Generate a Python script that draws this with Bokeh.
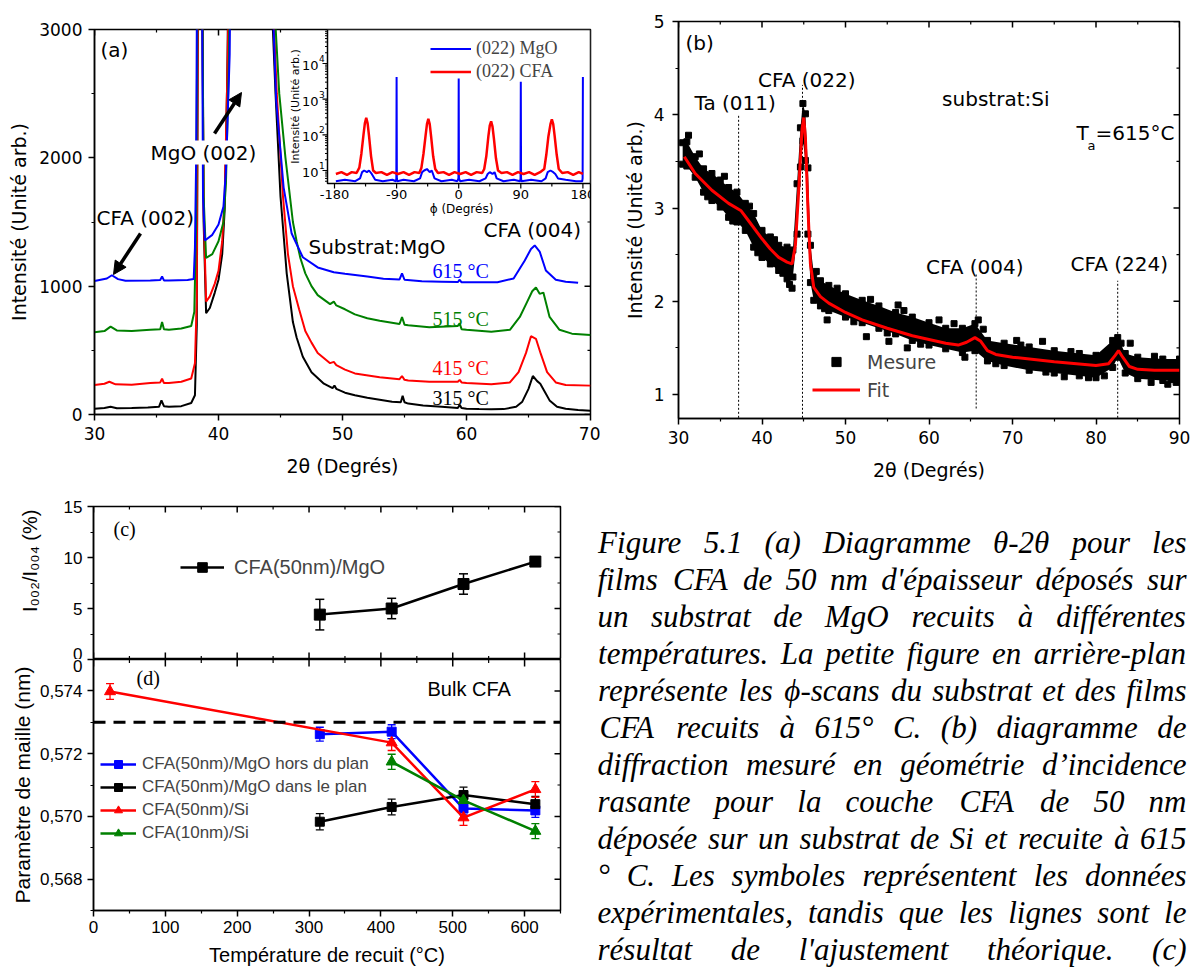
import math
from bokeh.plotting import figure
from bokeh.models import (Range1d, LogScale, FixedTicker, Legend, LegendItem, Label,
                          Arrow, NormalHead, Whisker, TeeHead, Span, ColumnDataSource,
                          CustomJSTickFormatter)
from bokeh.layouts import row, column
from bokeh.embed import file_html
from bokeh.resources import INLINE
from bokeh.core.properties import value

SANS = "DejaVu Sans"
ARIAL = "Liberation Sans"
SERIF = "Liberation Serif"

# ======================= DATA =======================
# (a) theta-2theta scans (2theta in degrees, intensity a.u.)
a315_x = [30, 30.8, 31.3, 31.8, 33, 34.3, 35.2, 35.4, 35.6, 36, 37, 37.8, 38.1, 38.25, 38.4, 38.6, 38.8, 39.0, 39.3, 39.7,
          40.0, 40.3, 40.5, 40.7, 41.0, 44.0, 44.3, 44.6, 45.0, 45.5, 46.0, 46.3, 46.8, 47.5, 48.5, 49.2, 49.35, 49.5,
          50.2, 51, 52, 53, 54, 54.7, 54.85, 55.0, 55.3, 56.5, 58, 59.3, 59.45, 59.6, 60, 61, 62, 63, 64, 64.5, 65.0,
          65.35, 65.7, 65.95, 66.3, 66.7, 67.3, 68, 69, 70]
a315_y = [45, 50, 60, 48, 50, 55, 60, 110, 65, 60, 65, 90, 150, 700, 5000, 5000, 1500, 790, 830, 950,
          1050, 1250, 1600, 2600, 5000, 5000, 3200, 2500, 1700, 1100, 720, 600, 450, 330, 240, 205, 225, 200,
          170, 150, 130, 115, 100, 95, 145, 95, 85, 70, 60, 50, 75, 50, 45, 42, 40, 42, 60, 100, 200,
          300, 260, 240, 180, 110, 60, 45, 35, 30]
a415_x = [30, 30.8, 31.2, 31.7, 33, 34.5, 35.3, 35.45, 35.6, 36, 37, 37.8, 38.1, 38.25, 38.4, 38.6, 38.8, 39.0, 39.3,
          39.7, 40.0, 40.3, 40.5, 40.75, 41.0, 44.0, 44.4, 44.7, 45.2, 45.6, 46.0, 46.5, 47.0, 47.5, 48.0, 49.0, 49.3,
          49.5, 50.2, 51, 53, 54.6, 54.8, 55.0, 55.3, 57, 59.3, 59.45, 59.6, 60, 62, 63.5, 64.2, 64.8, 65.2, 65.6,
          66.0, 66.5, 67.2, 68, 70]
a415_y = [230, 240, 255, 235, 232, 245, 250, 280, 245, 245, 255, 280, 400, 900, 5000, 5000, 1600, 880, 920,
          1020, 1120, 1350, 1700, 2800, 5000, 5000, 3200, 2500, 1700, 1250, 1000, 820, 650, 560, 480, 400, 410,
          385, 350, 320, 290, 275, 300, 270, 265, 255, 255, 270, 250, 245, 235, 250, 330, 480, 610, 590,
          470, 330, 250, 230, 225]
a515_x = [30, 30.8, 31.3, 31.8, 33, 34.5, 35.3, 35.45, 35.6, 36, 37, 37.8, 38.05, 38.2, 38.4, 38.6, 38.8, 39.0, 39.5,
          40.0, 40.4, 40.6, 40.85, 41.0, 44.0, 44.5, 44.9, 45.4, 46.0, 46.3, 46.6, 47.0, 47.5, 48.0, 49.0, 49.3, 49.5,
          50.2, 51, 52, 53, 54.6, 54.8, 55.0, 55.3, 57, 59.3, 59.45, 59.6, 60, 62, 63.5, 64.3, 64.9, 65.3, 65.6,
          65.9, 66.2, 66.7, 67.5, 68.5, 70]
a515_y = [640, 650, 685, 655, 650, 660, 665, 720, 665, 660, 670, 690, 800, 1500, 5000, 5000, 1700, 1220, 1250,
          1350, 1500, 1800, 2800, 5000, 5000, 3200, 2500, 2000, 1500, 1350, 1220, 1100, 1000, 930, 860, 880, 850,
          820, 780, 750, 730, 705, 760, 700, 695, 680, 690, 710, 665, 660, 645, 660, 760, 880, 960, 990,
          940, 950, 760, 660, 630, 620]
a615_x = [30, 31.0, 31.4, 31.9, 32.5, 34.5, 35.3, 35.45, 35.6, 36, 37.5, 38.0, 38.1, 38.2, 38.35, 38.6, 38.75, 38.9,
          39.5, 40.0, 40.4, 40.6, 40.9, 41.1, 44.0, 44.3, 44.65, 45.25, 45.9, 46.8, 48.0, 49.3, 50.2, 52, 53.3, 54.6,
          54.8, 55.0, 56.4, 58, 59.3, 59.45, 59.6, 61, 62.5, 63.8, 64.7, 65.2, 65.5, 65.9, 66.4, 67.2, 68, 69]
a615_y = [1040, 1060, 1085, 1055, 1042, 1045, 1048, 1075, 1045, 1045, 1048, 1055, 1300, 2000, 5000, 5000, 1700, 1356,
          1400, 1480, 1620, 1900, 2800, 5000, 5000, 3400, 2450, 1770, 1410, 1225, 1146, 1109, 1096, 1075, 1058, 1052,
          1100, 1050, 1039, 1035, 1032, 1050, 1030, 1030, 1030, 1060, 1200, 1290, 1317, 1270, 1122, 1050, 1035, 1026]
a_temps = ["315 °C", "415 °C", "515 °C", "615 °C"]

# (a) inset: phi scans
ib_x = [-178, -165, -150, -143, -140, -137, -133, -130, -126, -121, -110, -96, -91, -90.4, -90, -89.6, -89, -80, -65,
        -56, -53, -50, -46, -42, -39, -35, -25, -10, -2, -0.4, 0, 0.4, 2, 15, 30, 39, 42, 45, 49, 52, 55, 65, 80, 89,
        89.6, 90, 90.4, 91, 105, 120, 126, 129, 133, 137, 140, 144, 155, 170, 179, 179.6, 180]
ib_y = [5, 5.5, 5, 6, 9, 10, 9, 10, 8, 5.5, 5, 5.5, 5, 6, 4200, 6, 5, 5.5, 5,
        6, 9, 10, 11, 9, 10, 6, 5, 5.5, 5, 6, 3800, 6, 5, 5.5, 5, 6, 8, 9, 8, 9, 6, 5, 5.5, 5,
        6, 3100, 6, 5, 5.5, 5, 6, 9, 10, 9, 8, 6, 5.5, 5, 5, 6, 4200]
ir_x = [-178, -170, -162, -155, -148, -144, -141, -138, -136, -134, -132, -130, -127, -124, -120, -112, -104, -96,
        -88, -80, -72, -64, -57, -54, -51, -48, -46, -44, -42, -40, -37, -34, -30, -22, -14, -6, 2, 10, 18, 26, 34,
        37, 40, 43, 45, 47, 49, 51, 54, 57, 62, 70, 78, 86, 94, 102, 110, 118, 124, 127, 130, 133, 135, 137, 139,
        142, 145, 150, 158, 166, 174, 180]
ir_y = [8, 9, 7.5, 9, 8.5, 12, 30, 100, 210, 300, 210, 95, 25, 10, 8.5, 9, 7.5, 9,
        8, 9, 7.5, 9, 8.5, 12, 30, 95, 200, 280, 200, 90, 25, 11, 8.5, 9, 7.5, 9, 8, 9, 7.5, 9, 8.5,
        11, 25, 90, 180, 240, 170, 80, 22, 10, 8.5, 9, 7.5, 9, 8, 9, 7.5, 9, 11, 28, 90, 200, 270, 200, 95,
        28, 11, 8.5, 9, 7.5, 9, 8]

# (b) grazing incidence scan on Si
b_env_x = [30.5, 31, 32, 33, 34, 35, 36, 37, 38, 39, 40, 41, 42, 43, 43.7, 44.2, 44.6, 44.9, 45.2, 45.5, 45.8, 46.2,
           47, 48, 50, 52, 54, 56, 58, 60, 62, 64, 65.5, 67, 69, 72, 75, 78, 80, 82, 82.6, 83.5, 85, 88, 90]
b_env_hi = [3.70, 3.71, 3.55, 3.42, 3.37, 3.30, 3.22, 3.17, 3.05, 2.94, 2.76, 2.69, 2.60, 2.58, 2.55, 3.26, 3.86,
            4.12, 4.01, 3.43, 2.60, 2.30, 2.22, 2.17, 2.08, 2.01, 1.95, 1.88, 1.83, 1.77, 1.71, 1.71, 1.76, 1.58,
            1.55, 1.51, 1.47, 1.44, 1.42, 1.58, 1.61, 1.44, 1.40, 1.38, 1.38]
b_env_lo = [3.47, 3.45, 3.33, 3.17, 3.08, 3.01, 2.90, 2.85, 2.76, 2.58, 2.47, 2.40, 2.33, 2.24, 2.26, 2.72, 3.44,
            3.72, 3.51, 2.72, 2.20, 2.01, 1.95, 1.90, 1.83, 1.77, 1.71, 1.65, 1.58, 1.53, 1.49, 1.45, 1.47, 1.36,
            1.31, 1.26, 1.23, 1.20, 1.18, 1.29, 1.40, 1.23, 1.17, 1.15, 1.15]
b_out_x = [31.2, 43.3, 43.6, 47.8, 52.5, 55.2, 56.3, 57.4, 61.2, 64.3, 65.9, 70.5, 73.6, 76.2, 79.1, 84.1, 86.6,
           88.6, 89.6, 32.5, 33.5, 35.5, 36.5, 38.5, 39.5, 41.5, 42.5, 46.5, 47.5, 49, 51, 53, 55, 57, 59, 63,
           66.5, 68, 71, 74, 77, 81, 83, 87, 89]
b_out_y = [3.78, 2.18, 2.14, 1.80, 1.62, 1.57, 1.96, 1.50, 1.80, 1.40, 1.80, 1.58, 1.57, 1.19, 1.18, 1.55, 1.13,
           1.11, 1.13, 3.58, 3.12, 3.34, 2.86, 3.02, 2.52, 2.66, 2.30, 2.32, 1.92, 2.14, 1.78, 2.02, 1.66, 1.90,
           1.54, 1.76, 1.70, 1.33, 1.53, 1.24, 1.46, 1.20, 1.55, 1.41, 1.16]
b_fit_x = [30.7, 32, 34, 36, 37.5, 38.5, 40, 41, 42, 43, 43.6, 44.0, 44.4, 44.8, 45.0, 45.2, 45.5, 45.8, 46.2, 47,
           48, 50, 52, 55, 58, 60, 62, 63.5, 64.5, 65.5, 66.2, 67, 68, 70, 75, 80, 81.5, 82.3, 82.7, 83.2, 84, 85,
           87, 90]
b_fit_y = [3.55, 3.37, 3.19, 3.05, 2.97, 2.85, 2.67, 2.56, 2.47, 2.42, 2.40, 2.6, 3.2, 3.85, 3.97, 3.75, 3.0, 2.4,
           2.15, 2.05, 1.98, 1.88, 1.80, 1.71, 1.63, 1.59, 1.55, 1.53, 1.56, 1.61, 1.57, 1.47, 1.43, 1.40, 1.35,
           1.31, 1.33, 1.42, 1.47, 1.40, 1.30, 1.27, 1.26, 1.26]
b_ref_x = [37.2, 44.85, 65.65, 82.6]
b_ref_top = [4.01, 4.32, 2.30, 2.22]
b_ref_bot = [0.75, 0.75, 0.85, 0.75]

# (c) I002/I004 ratio
c_temp = [315, 415, 515, 615]
c_ratio = [4.4, 5.0, 7.4, 9.6]
c_lo = [2.9, 4.0, 6.4, 9.3]
c_hi = [5.9, 6.0, 8.4, 9.9]

# (d) lattice parameter (nm)
d_temp = [315, 415, 515, 615]
d_hors = [0.57262, 0.57270, 0.57025, 0.57019]
d_hors_err = [0.00022, 0.00022, 0.00020, 0.00022]
d_dans = [0.56983, 0.57030, 0.57068, 0.57039]
d_dans_err = [0.00026, 0.00025, 0.00025, 0.00025]
d_si50_temp = [23, 415, 515, 615]
d_si50 = [0.57398, 0.57235, 0.56996, 0.57086]
d_si50_err = [0.00025, 0.00025, 0.00025, 0.00025]
d_si10_temp = [415, 515, 615]
d_si10 = [0.57174, 0.57051, 0.56953]
d_si10_err = [0.00024, 0.00024, 0.00024]
d_bulk = 0.573

# ======================= HELPERS =======================
def base_fig(w, h, xr, yr, bl, br, bt, bb, **kw):
    p = figure(width=w, height=h, x_range=xr, y_range=yr, title=None,
               output_backend="svg", toolbar_location=None,
               min_border_left=bl, min_border_right=br, min_border_top=bt, min_border_bottom=bb, **kw)
    p.frame_align = False
    p.grid.visible = False
    p.outline_line_color = "black"
    p.outline_line_width = 1.5
    p.background_fill_color = "white"
    p.border_fill_color = "white"
    return p


def style_axis(ax, ticks, minors, font, fs, lab_fs, standoff, lab_standoff, label=None):
    ax.ticker = FixedTicker(ticks=ticks, minor_ticks=minors)
    ax.axis_line_width = 1.5
    ax.axis_line_color = "black"
    ax.major_tick_line_width = 1.5
    ax.minor_tick_line_width = 1.2
    ax.major_tick_line_color = "black"
    ax.minor_tick_line_color = "black"
    ax.major_tick_out = 6
    ax.major_tick_in = 0
    ax.minor_tick_out = 3
    ax.minor_tick_in = 0
    ax.major_label_text_font = font
    ax.major_label_text_font_size = f"{fs}px"
    ax.major_label_text_color = "black"
    ax.major_label_standoff = standoff
    ax.axis_label = label
    ax.axis_label_text_font = font
    ax.axis_label_text_font_size = f"{lab_fs}px"
    ax.axis_label_text_font_style = "normal"
    ax.axis_label_text_color = "black"
    ax.axis_label_standoff = lab_standoff


def mirror_ticks(p, side, majors, minors, edge, per_px):
    """inward tick marks on the top or right frame edge (edge = data value of that edge)"""
    for vals, ln, lw in ((majors, 6, 1.5), (minors, 3, 1.2)):
        n = len(vals)
        if side == "above":
            p.segment(x0=vals, y0=[edge] * n, x1=vals, y1=[edge - ln * per_px] * n,
                      line_color="black", line_width=lw)
        else:
            p.segment(x0=[edge] * n, y0=vals, x1=[edge - ln * per_px] * n, y1=vals,
                      line_color="black", line_width=lw)


def label(p, x, y, text, font, size, color="black", align="left", baseline="middle", **kw):
    p.add_layout(Label(x=x, y=y, text=text, text_font=font, text_font_size=f"{size}px",
                       text_color=color, text_align=align, text_baseline=baseline, **kw))


# pixel -> data converters (used only to place annotations)
ax_ = lambda px: 30 + (px - 94) / 12.4
ay_ = lambda py: (414 - py) * 3000 / 385
ixp = lambda px: -180 + (px - 334) / 0.69
iyp = lambda py: 10 ** (1 + (170 - py) / 35.67)
bx_ = lambda px: 30 + (px - 678) * 60 / 501
by_ = lambda py: 1 + (394 - py) * 4 / 373
cx_ = lambda px: (px - 93) * 650 / 467
cy_ = lambda py: (659 - py) * 15 / 153
dy_ = lambda py: 0.575 - (py - 659) * 0.008 / 251

# ======================= PANEL (a) =======================
pA = base_fig(600, 490, Range1d(30, 70), Range1d(0, 3000), 94, 10, 29, 76)
style_axis(pA.xaxis[0], [30, 40, 50, 60, 70], [35, 45, 55, 65], SANS, 17, 19, 6, 12, "2θ (Degrés)")
style_axis(pA.yaxis[0], [0, 1000, 2000, 3000], [500, 1500, 2500], SANS, 17, 19, 6, 6, "Intensité (Unité arb.)")
mirror_ticks(pA, "above", [30, 40, 50, 60, 70], [35, 45, 55, 65], 3000, 3000 / 385)
mirror_ticks(pA, "right", [0, 1000, 2000, 3000], [500, 1500, 2500], 70, 1 / 12.4)

pA.line(a315_x, a315_y, line_color="black", line_width=2)
pA.line(a415_x, a415_y, line_color="red", line_width=2)
pA.line(a515_x, a515_y, line_color="green", line_width=2)
pA.line(a615_x, a615_y, line_color="blue", line_width=2)

label(pA, ax_(100), ay_(49), "(a)", SANS, 20)
label(pA, ax_(150), ay_(152), "MgO (002)", SANS, 20, background_fill_color="white")
label(pA, ax_(96), ay_(217), "CFA (002)", SANS, 20)
label(pA, ax_(308), ay_(246), "Substrat:MgO", SANS, 20)
label(pA, ax_(483), ay_(229), "CFA (004)", SANS, 20)
for t, py, col in zip(a_temps, [397, 367, 318, 270], ["black", "red", "green", "blue"]):
    label(pA, ax_(432), ay_(py), t, SERIF, 20, color=col)

pA.add_layout(Arrow(end=NormalHead(size=13, fill_color="black", line_color="black"),
                    x_start=ax_(214), y_start=ay_(133), x_end=ax_(241), y_end=ay_(92),
                    line_width=3.5, line_color="black"))
pA.add_layout(Arrow(end=NormalHead(size=13, fill_color="black", line_color="black"),
                    x_start=ax_(140), y_start=ay_(233), x_end=ax_(113), y_end=ay_(274),
                    line_width=3.5, line_color="black"))

# ---- inset ----
pA.extra_x_ranges = {"ix": Range1d(ixp(94), ixp(590))}
pA.extra_y_ranges = {"iy": Range1d(iyp(414), iyp(29))}
pA.extra_y_scales = {"iy": LogScale()}
IN = dict(x_range_name="ix", y_range_name="iy")
pA.quad(left=[ixp(327)], right=[ixp(590)], bottom=[iyp(183)], top=[iyp(29)],
        fill_color="white", line_color="black", line_width=1.5, **IN)
r_ib = pA.line(ib_x, ib_y, line_color="blue", line_width=2, **IN)
r_ir = pA.line(ir_x, ir_y, line_color="red", line_width=2.5, **IN)

xmaj = [-180, -90, 0, 90, 180]
xmin = [-135, -45, 45, 135]
pA.segment(x0=xmaj, y0=[iyp(183)] * 5, x1=xmaj, y1=[iyp(188)] * 5, line_color="black", line_width=1.2, **IN)
pA.segment(x0=xmin, y0=[iyp(183)] * 4, x1=xmin, y1=[iyp(186)] * 4, line_color="black", line_width=1.2, **IN)
ymaj = [10, 100, 1000, 10000]
ymin = [k * 10 ** e for e in range(0, 5) for k in range(2, 10) if iyp(183) < k * 10 ** e < iyp(29)]
pA.segment(x0=[ixp(327)] * 4, y0=ymaj, x1=[ixp(322)] * 4, y1=ymaj, line_color="black", line_width=1.2, **IN)
pA.segment(x0=[ixp(327)] * len(ymin), y0=ymin, x1=[ixp(324.5)] * len(ymin), y1=ymin,
           line_color="black", line_width=1, **IN)
pA.text(x=xmaj, y=[iyp(194)] * 5, text=[str(v) for v in xmaj], text_font=value(SANS),
        text_font_size=value("13px"), text_align="center", text_baseline="middle", text_color="black", **IN)
pA.text(x=[ixp(461)], y=[iyp(208)], text=["ϕ (Degrés)"], text_font=value(SANS),
        text_font_size=value("12px"), text_align="center", text_baseline="middle", text_color="black", **IN)
dec_py = [170 - i * 35.67 for i in range(4)]
pA.text(x=[ixp(318)] * 4, y=[iyp(py + 2) for py in dec_py], text=["10"] * 4, text_font=value(SANS),
        text_font_size=value("13px"), text_align="right", text_baseline="middle", text_color="black", **IN)
pA.text(x=[ixp(318.5)] * 4, y=[iyp(py - 5) for py in dec_py], text=["1", "2", "3", "4"], text_font=value(SANS),
        text_font_size=value("9px"), text_align="left", text_baseline="middle", text_color="black", **IN)
pA.text(x=[ixp(295)], y=[iyp(106)], text=["Intensité (Unité arb.)"], angle=math.pi / 2, text_font=value(SANS),
        text_font_size=value("11px"), text_align="center", text_baseline="middle", text_color="black", **IN)

leg_in = Legend(items=[LegendItem(label="(022) MgO", renderers=[r_ib]),
                       LegendItem(label="(022) CFA", renderers=[r_ir])],
                location=(336, 332), orientation="vertical", padding=0, margin=0, spacing=2,
                glyph_width=41, glyph_height=21, label_height=21, label_standoff=5,
                label_text_font=SERIF, label_text_font_size="18px", border_line_color=None,
                background_fill_alpha=0)
pA.add_layout(leg_in)

# ======================= PANEL (b) =======================
pB = base_fig(595, 490, Range1d(30, 90), Range1d(by_(418), 5), 78, 16, 21, 72)
style_axis(pB.xaxis[0], [30, 40, 50, 60, 70, 80, 90], [35, 45, 55, 65, 75, 85], SANS, 17, 19, 6, 12, "2θ (Degrés)")
style_axis(pB.yaxis[0], [1, 2, 3, 4, 5], [1.5, 2.5, 3.5, 4.5], SANS, 17, 19, 8, 5, "Intensité (Unité arb.)")
mirror_ticks(pB, "above", [30, 40, 50, 60, 70, 80, 90], [35, 45, 55, 65, 75, 85], 5, 4 / 373)
mirror_ticks(pB, "right", [1, 2, 3, 4, 5], [1.5, 2.5, 3.5, 4.5], 90, 60 / 501)

pB.segment(x0=b_ref_x, y0=b_ref_bot, x1=b_ref_x, y1=b_ref_top, line_color="black", line_width=1, line_dash="2 2")
pB.varea(x=b_env_x, y1=b_env_lo, y2=b_env_hi, fill_color="black")
r_mes = pB.scatter(x=b_env_x + b_env_x + b_out_x, y=b_env_lo + b_env_hi + b_out_y, marker="square", size=6,
                   fill_color="black", line_color="black")
r_fit = pB.line(b_fit_x, b_fit_y, line_color="red", line_width=3)

label(pB, bx_(685), by_(42), "(b)", SANS, 20)
label(pB, bx_(757.5), by_(79), "CFA (022)", SANS, 20)
label(pB, bx_(694), by_(102), "Ta (011)", SANS, 20)
label(pB, bx_(941.6), by_(98), "substrat:Si", SANS, 20)
label(pB, bx_(925.6), by_(266), "CFA (004)", SANS, 20)
label(pB, bx_(1070), by_(263), "CFA (224)", SANS, 20)
label(pB, bx_(1076), by_(132), "T", SANS, 20)
label(pB, bx_(1087), by_(145), "a", SANS, 13)
label(pB, bx_(1095), by_(132), "=615°C", SANS, 20)

leg_b = Legend(items=[LegendItem(label="Mesure", renderers=[r_mes]), LegendItem(label="Fit", renderers=[r_fit])],
               location=(134, 17), orientation="vertical", padding=0, margin=0, spacing=5,
               glyph_width=48, glyph_height=23, label_height=23, label_standoff=7,
               label_text_font=SANS, label_text_font_size="19px", border_line_color=None,
               background_fill_alpha=0)
pB.add_layout(leg_b)

# ======================= PANEL (c) =======================
xt = [0, 100, 200, 300, 400, 500, 600]
xm = [50, 150, 250, 350, 450, 550, 650]
pC = base_fig(590, 169, Range1d(0, 650), Range1d(0, 15), 93, 30, 16, 0, x_axis_location=None)
style_axis(pC.yaxis[0], [0, 5, 10, 15], [2.5, 7.5, 12.5], ARIAL, 17, 20, 5, 20,
           "\u00a0" * 8 + "I₀₀₂/I₀₀₄ (%)")
mirror_ticks(pC, "above", xt, xm, 15, 15 / 153)
mirror_ticks(pC, "right", [0, 5, 10, 15], [2.5, 7.5, 12.5], 650, 650 / 467)
pC.segment(x0=xt, y0=[0] * 7, x1=xt, y1=[cy_(652)] * 7, line_color="black", line_width=1.5)
pC.segment(x0=xm, y0=[0] * 7, x1=xm, y1=[cy_(655.5)] * 7, line_color="black", line_width=1.2)

srcC = ColumnDataSource(dict(base=c_temp, lower=c_lo, upper=c_hi))
pC.add_layout(Whisker(source=srcC, base="base", lower="lower", upper="upper", dimension="height",
                      line_color="black", line_width=1.5,
                      upper_head=TeeHead(size=9, line_color="black", line_width=1.5),
                      lower_head=TeeHead(size=9, line_color="black", line_width=1.5)))
rc_l = pC.line(c_temp, c_ratio, line_color="black", line_width=2.5)
rc_s = pC.scatter(c_temp, c_ratio, marker="square", size=11, fill_color="black", line_color="black")
label(pC, cx_(113), cy_(528), "(c)", SERIF, 20)
leg_c = Legend(items=[LegendItem(label="CFA(50nm)/MgO", renderers=[rc_l, rc_s])],
               location=(87, 80), orientation="vertical", padding=0, margin=0, spacing=0,
               glyph_width=44, glyph_height=24, label_height=24, label_standoff=10,
               label_text_font=ARIAL, label_text_font_size="20px", border_line_color=None,
               background_fill_alpha=0)
pC.add_layout(leg_c)

# ======================= PANEL (d) =======================
yt = [0.568, 0.570, 0.572, 0.574, 0.575]
ym = [0.567, 0.569, 0.571, 0.573]
pD = base_fig(590, 315, Range1d(0, 650), Range1d(0.567, 0.575), 93, 30, 0, 64)
style_axis(pD.xaxis[0], xt, xm, ARIAL, 17, 20, 4, 8, "Température de recuit (°C)")
style_axis(pD.yaxis[0], yt, ym, ARIAL, 17, 21, 5, 3, "Paramètre de maille (nm)")
pD.yaxis[0].formatter = CustomJSTickFormatter(
    code="if (Math.abs(tick - 0.575) < 1e-7) { return '0'; } return tick.toFixed(3).replace('.', ',');")
mirror_ticks(pD, "right", yt[:4], ym, 650, 650 / 467)
pD.segment(x0=xt, y0=[0.575] * 7, x1=xt, y1=[dy_(666)] * 7, line_color="black", line_width=1.5)
pD.segment(x0=xm, y0=[0.575] * 7, x1=xm, y1=[dy_(662.5)] * 7, line_color="black", line_width=1.2)

pD.add_layout(Span(location=d_bulk, dimension="width", line_color="black", line_width=3, line_dash="12 8"))

series = [
    (d_temp, d_hors, d_hors_err, "blue", "square", 9, "CFA(50nm)/MgO hors du plan"),
    (d_temp, d_dans, d_dans_err, "black", "square", 9, "CFA(50nm)/MgO dans le plan"),
    (d_si50_temp, d_si50, d_si50_err, "red", "triangle", 11, "CFA(50nm)/Si"),
    (d_si10_temp, d_si10, d_si10_err, "green", "triangle", 11, "CFA(10nm)/Si"),
]
items = []
for xs, ys, es, col, mk, sz, lab in series:
    src = ColumnDataSource(dict(base=xs, lower=[y - e for y, e in zip(ys, es)],
                                upper=[y + e for y, e in zip(ys, es)]))
    pD.add_layout(Whisker(source=src, base="base", lower="lower", upper="upper", dimension="height",
                          line_color=col, line_width=1.3,
                          upper_head=TeeHead(size=8, line_color=col, line_width=1.3),
                          lower_head=TeeHead(size=8, line_color=col, line_width=1.3)))
    rl = pD.line(xs, ys, line_color=col, line_width=2.5)
    rs = pD.scatter(xs, ys, marker=mk, size=sz, fill_color=col, line_color=col)
    items.append(LegendItem(label=lab, renderers=[rl, rs]))

label(pD, cx_(136), dy_(677), "(d)", SERIF, 20)
label(pD, cx_(427), dy_(688), "Bulk CFA", ARIAL, 20)
leg_d = Legend(items=items, location=(7, 67), orientation="vertical", padding=0, margin=0, spacing=3,
               glyph_width=36, glyph_height=20, label_height=20, label_standoff=6,
               label_text_font=ARIAL, label_text_font_size="17px", border_line_color=None,
               background_fill_alpha=0)
pD.add_layout(leg_d)

# ======================= CAPTION =======================
cap_lines = [
    "Figure 5.1 (a) Diagramme θ-2θ pour les",
    "films CFA de 50 nm d'épaisseur déposés sur",
    "un substrat de MgO recuits à différentes",
    "températures. La petite figure en arrière-plan",
    "représente les ϕ-scans du substrat et des films",
    "CFA recuits à 615° C. (b) diagramme de",
    "diffraction mesuré en géométrie d’incidence",
    "rasante pour la couche CFA de 50 nm",
    "déposée sur un substrat de Si et recuite à 615",
    "° C. Les symboles représentent les données",
    "expérimentales, tandis que les lignes sont le",
    "résultat de l'ajustement théorique. (c)",
    "Evolution du rapport I(002)/I(004) des",
]
TI = {' ': 250, '(': 333, ')': 333, '.': 250, ',': 250, '-': 333, "'": 214, '’': 333, '/': 278, '°': 400,
      ':': 333, 'θ': 500, 'ϕ': 600, 'é': 444, 'è': 444, 'à': 500,
      'A': 611, 'B': 611, 'C': 667, 'D': 722, 'E': 611, 'F': 611, 'G': 722, 'H': 722, 'I': 333, 'J': 444,
      'K': 667, 'L': 556, 'M': 833, 'N': 667, 'O': 722, 'P': 611, 'Q': 722, 'R': 611, 'S': 500, 'T': 556,
      'U': 722, 'V': 611, 'W': 833, 'X': 611, 'Y': 556, 'Z': 556,
      'a': 500, 'b': 500, 'c': 444, 'd': 500, 'e': 444, 'f': 278, 'g': 500, 'h': 500, 'i': 278, 'j': 278,
      'k': 444, 'l': 278, 'm': 722, 'n': 500, 'o': 500, 'p': 500, 'q': 500, 'r': 389, 's': 389, 't': 278,
      'u': 500, 'v': 444, 'w': 667, 'x': 444, 'y': 444, 'z': 389}
CAP_FS = 31
CAP_L, CAP_R = 597, 1186
cw_x, cw_y, cw_t = [], [], []
for i, line in enumerate(cap_lines):
    words = line.split(" ")
    widths = [sum(TI.get(ch, 500) for ch in w) * CAP_FS / 1000 for w in words]
    gap = (CAP_R - CAP_L - sum(widths)) / max(len(words) - 1, 1)
    x = CAP_L
    base = 542 + 37 * i
    for w, wd in zip(words, widths):
        cw_x.append(x + wd / 2)
        cw_y.append(base)
        cw_t.append(w)
        x += wd + gap

pCap = figure(width=605, height=484, x_range=Range1d(590, 1195), y_range=Range1d(974, 490), title=None,
              output_backend="svg", toolbar_location=None, min_border=0,
              x_axis_location=None, y_axis_location=None)
pCap.frame_align = False
pCap.grid.visible = False
pCap.outline_line_color = None
pCap.text(x=cw_x, y=cw_y, text=cw_t, text_align="center", text_baseline="alphabetic",
          text_font=value(SERIF), text_font_style="italic", text_font_size=value(f"{CAP_FS}px"),
          text_color="black")

layout = column(row(pA, pB), row(column(pC, pD), pCap))
open("out.html", "w").write(file_html(layout, INLINE, title="Figure 5.1"))
